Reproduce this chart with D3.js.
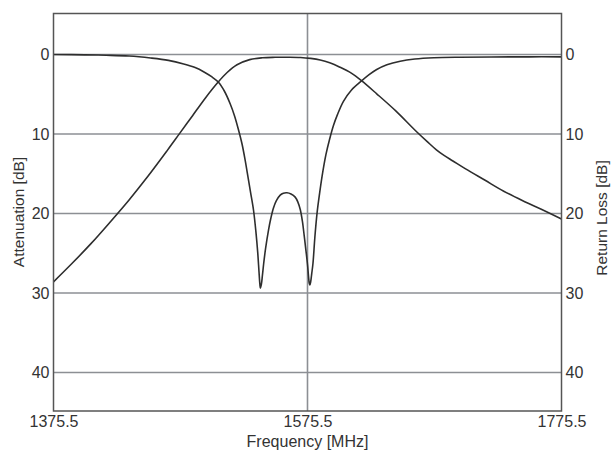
<!DOCTYPE html>
<html>
<head>
<meta charset="utf-8">
<script src="https://cdn.jsdelivr.net/npm/d3@7"></script>
<style>
  html, body { margin: 0; padding: 0; background: #fff; }
  svg { display: block; }
  text { font-family: "Liberation Sans", Arial, Helvetica, sans-serif; fill: #333; }
</style>
</head>
<body>
<svg id="chart" width="611" height="452"></svg>
<script>
// ---- data (frequency in MHz, level in dB) ----
const attFreq = [1375.5, 1390, 1405, 1420, 1435, 1450, 1465, 1475, 1485, 1495, 1505, 1512, 1520, 1530, 1540, 1550, 1560, 1570, 1578, 1585.5, 1593, 1601, 1610, 1618, 1630, 1645, 1660, 1670, 1677, 1683, 1690, 1700, 1715, 1730, 1745, 1760, 1775.5];
const attDb   = [28.6, 26.3, 23.8, 21.1, 18.3, 15.3, 12.1, 9.9, 7.7, 5.5, 3.5, 2.3, 1.3, 0.65, 0.42, 0.36, 0.35, 0.38, 0.5, 0.7, 1.05, 1.6, 2.35, 3.3, 4.95, 7.1, 9.5, 11.0, 12.0, 12.7, 13.4, 14.4, 15.8, 17.2, 18.4, 19.5, 20.7];

const rlFreq = [1375.5, 1400, 1417, 1435, 1452, 1466, 1478, 1487, 1494, 1500, 1505.4, 1510, 1514.6, 1518, 1521.2, 1524, 1526.4, 1528, 1530.5, 1533, 1535, 1536.3, 1537.3, 1538, 1538.4, 1539.2, 1540, 1541, 1542.5, 1544.8, 1546.5, 1548.7, 1551, 1554, 1556.5, 1559.3, 1562.5, 1565.8, 1568, 1569.8, 1571.5, 1572.9, 1574.3, 1575.5, 1576.3, 1576.9, 1577.4, 1578, 1578.8, 1579.8, 1581.3, 1583, 1585, 1587, 1590, 1593, 1596, 1599, 1603.8, 1610, 1618.3, 1624, 1630, 1638, 1648.5, 1660, 1675, 1695, 1720, 1750, 1775.5];
const rlDb   = [0.0, 0.05, 0.1, 0.2, 0.45, 0.75, 1.2, 1.65, 2.2, 2.8, 3.5, 4.6, 6.2, 7.7, 9.5, 11.3, 13.3, 14.8, 17.2, 19.6, 22.5, 24.9, 27.3, 28.9, 29.4, 28.9, 27.8, 26.3, 24.4, 22.1, 20.7, 19.3, 18.4, 17.7, 17.45, 17.4, 17.55, 17.95, 18.6, 19.5, 21.0, 22.8, 24.7, 26.4, 27.9, 28.8, 29.0, 28.6, 27.6, 26.3, 23.0, 20.0, 17.5, 15.3, 12.6, 10.6, 8.9, 7.6, 5.9, 4.5, 3.3, 2.55, 1.9, 1.3, 0.85, 0.58, 0.42, 0.35, 0.32, 0.3, 0.3];

const yTicks = [0, 10, 20, 30, 40];
const xTicks = [1375.5, 1575.5, 1775.5];
const xTitle = "Frequency [MHz]";
const yTitleLeft = "Attenuation [dB]";
const yTitleRight = "Return Loss [dB]";

// ---- layout ----
const L = 53.5, R = 561.5, T = 13.5, B = 411;
const svg = d3.select("#chart");

const x = d3.scaleLinear().domain([1375.5, 1775.5]).range([L, R]);
const y = d3.scaleLinear().domain([-5.15, 44.85]).range([T, B]);

// gridlines
const grid = svg.append("g");
grid.selectAll("line.h").data(yTicks).join("line")
  .attr("class", "h")
  .attr("x1", L).attr("x2", R)
  .attr("y1", d => y(d)).attr("y2", d => y(d))
  .attr("stroke", "#8c8f94").attr("stroke-width", 1.6);
grid.append("line")
  .attr("x1", x(1575.5)).attr("x2", x(1575.5))
  .attr("y1", T).attr("y2", B)
  .attr("stroke", "#8c8f94").attr("stroke-width", 1.6);

// curves
const line = d3.line()
  .x(d => x(d[0])).y(d => y(d[1]))
  .curve(d3.curveCatmullRom.alpha(0.5));

svg.append("clipPath").attr("id", "plotclip")
  .append("rect").attr("x", L).attr("y", T).attr("width", R - L).attr("height", B - T);

const curves = svg.append("g").attr("clip-path", "url(#plotclip)");
curves.append("path")
  .datum(attFreq.map((f, i) => [f, attDb[i]]))
  .attr("d", line).attr("fill", "none")
  .attr("stroke", "#2e2e2e").attr("stroke-width", 1.6);
curves.append("path")
  .datum(rlFreq.map((f, i) => [f, rlDb[i]]))
  .attr("d", line).attr("fill", "none")
  .attr("stroke", "#2e2e2e").attr("stroke-width", 1.6);

// frame
svg.append("rect")
  .attr("x", L).attr("y", T).attr("width", R - L).attr("height", B - T)
  .attr("fill", "none").attr("stroke", "#555").attr("stroke-width", 1.5);

// axes (labels only)
const axL = svg.append("g").attr("transform", `translate(${L},0)`)
  .call(d3.axisLeft(y).tickValues(yTicks).tickSize(0).tickPadding(4));
const axR = svg.append("g").attr("transform", `translate(${R},0)`)
  .call(d3.axisRight(y).tickValues(yTicks).tickSize(0).tickPadding(4));
const axB = svg.append("g").attr("transform", `translate(0,${B})`)
  .call(d3.axisBottom(x).tickValues(xTicks).tickFormat(d3.format(".1f")).tickSize(0).tickPadding(5));

[axL, axR, axB].forEach(g => {
  g.select(".domain").remove();
  g.selectAll("text").attr("font-size", 16)
    .attr("font-family", "'Liberation Sans', Arial, sans-serif").attr("fill", "#333");
});

// titles
svg.append("text")
  .attr("x", x(1575.5)).attr("y", 447)
  .attr("text-anchor", "middle").attr("font-size", 16)
  .text(xTitle);
svg.append("text")
  .attr("transform", `translate(24,212) rotate(-90)`)
  .attr("text-anchor", "middle").attr("font-size", 15.5)
  .text(yTitleLeft);
svg.append("text")
  .attr("transform", `translate(607,218) rotate(-90)`)
  .attr("text-anchor", "middle").attr("font-size", 15.5)
  .text(yTitleRight);
</script>
</body>
</html>
